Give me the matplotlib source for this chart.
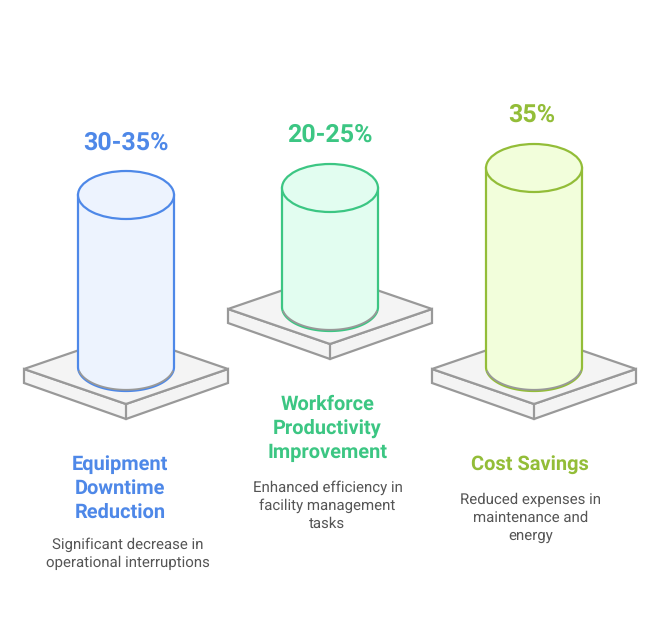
import numpy as np
import matplotlib
matplotlib.use("Agg")
import matplotlib.pyplot as plt
from matplotlib.patches import Polygon, Ellipse

plt.rcParams["text.hinting"] = "no_hinting"
plt.rcParams["text.hinting_factor"] = 1

values = ["30-35%", "20-25%", "35%"]
titles = [["Equipment", "Downtime", "Reduction"],
          ["Workforce", "Productivity", "Improvement"],
          ["Cost Savings"]]
bodies = [["Significant decrease in", "operational interruptions"],
          ["Enhanced efficiency in", "facility management", "tasks"],
          ["Reduced expenses in", "maintenance and", "energy"]]
centers = [126, 330, 534]
cyl_tops = [195, 188, 168]
cyl_bottoms = [367, 307, 367]
plat_mid = [369, 309, 369]
value_y = [142.5, 134.5, 114.5]
value_x = [125.5, 330, 532]
title_y = [[464.5, 488.5, 512.5], [404.5, 428.5, 452.5], [464.5]]
title_x = [120, 327.5, 529.5]
body_y = [[544.5, 562.5], [487.5, 505.5, 523.5], [499.5, 517.5, 535.5]]
body_x = [127.5, 327.5, 530.5]
edge_cols = ["#4E88E8", "#3CC683", "#93BD38"]
fill_cols = ["#EDF3FE", "#E2FDF0", "#F2FEDB"]

RX, RY = 48, 24
PW, PD, PT = 102, 35, 15
GRAY = "#999999"

fig = plt.figure(figsize=(6.6, 6.2), dpi=100)
ax = fig.add_axes([0, 0, 1, 1])
ax.set_xlim(0, 660)
ax.set_ylim(620, 0)
ax.axis("off")

for i, cx in enumerate(centers):
    my = plat_mid[i]
    ec, fc = edge_cols[i], fill_cols[i]
    # platform
    ax.add_patch(Polygon([(cx - PW, my), (cx, my + PD), (cx + PW, my), (cx + PW, my + PT - 1),
                          (cx, my + PD + PT), (cx - PW, my + PT - 1)],
                         fc="#F4F4F4", ec=GRAY, lw=1.6, joinstyle="miter", zorder=1))
    ax.add_patch(Polygon([(cx - PW, my), (cx, my - PD), (cx + PW, my), (cx, my + PD)],
                         fc="#F4F4F4", ec=GRAY, lw=1.6, joinstyle="miter", zorder=1))
    ax.plot([cx, cx], [my + PD, my + PD + PT], color=GRAY, lw=1.6, zorder=1)
    # cylinder
    top, bot = cyl_tops[i], cyl_bottoms[i]
    t = np.linspace(np.pi, 0, 80)
    xs = cx + RX * np.cos(t)
    ys = bot + RY * np.sin(t)
    body = np.column_stack([np.r_[cx - RX, xs, cx + RX], np.r_[top, ys, top]])
    ax.add_patch(Polygon(body, closed=True, fc=fc, ec="none", zorder=2))
    ax.plot(body[:, 0], body[:, 1], color=ec, lw=1.6, zorder=3)
    ax.plot(xs[6:-6], ys[6:-6] - 1.2, color=GRAY, lw=1.3, zorder=3)
    ax.add_patch(Ellipse((cx, top), 2 * RX, 2 * RY, fc=fc, ec=ec, lw=1.6, zorder=4))
    # text
    ax.text(value_x[i], value_y[i], values[i], color=ec, fontsize=18.2, fontweight="bold",
            family="Roboto", ha="center", va="center")
    for s, y in zip(titles[i], title_y[i]):
        ax.text(title_x[i], y, s, color=ec, fontsize=14.7, fontweight="bold",
                family="Roboto", ha="center", va="center")
    for s, y in zip(bodies[i], body_y[i]):
        ax.text(body_x[i], y, s, color="#555555", fontsize=10.65,
                family="Roboto", ha="center", va="center")

fig.savefig("out.png", dpi=100, facecolor="white")
